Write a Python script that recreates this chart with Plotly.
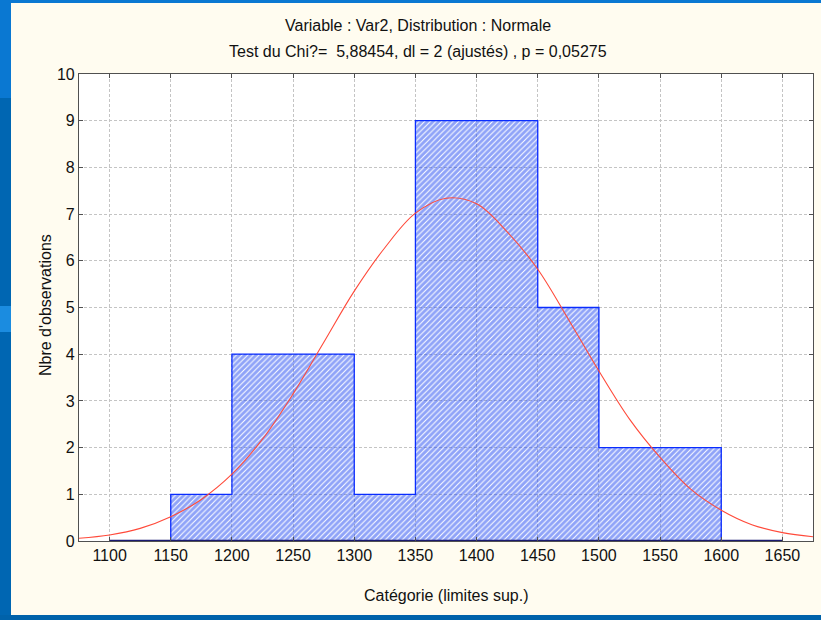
import plotly.graph_objects as go

# ---- data ----
bin_edges = [1100, 1150, 1200, 1250, 1300, 1350, 1400, 1450, 1500, 1550, 1600, 1650]
counts = [0, 1, 4, 4, 1, 9, 9, 5, 2, 2, 0]

curve_x = [1075, 1100, 1125, 1150, 1175, 1200, 1225, 1250, 1275, 1300, 1325, 1350, 1375,
           1400, 1425, 1450, 1475, 1500, 1525, 1550, 1575, 1600, 1625, 1650, 1675]
curve_y = [0.06, 0.13, 0.27, 0.52, 0.89, 1.43, 2.18, 3.15, 4.25, 5.35, 6.28, 7.02, 7.34,
           7.22, 6.62, 5.82, 4.75, 3.64, 2.61, 1.79, 1.11, 0.66, 0.35, 0.18, 0.09]

x_ticks = [1100, 1150, 1200, 1250, 1300, 1350, 1400, 1450, 1500, 1550, 1600, 1650]
y_ticks = [0, 1, 2, 3, 4, 5, 6, 7, 8, 9, 10]

title1 = "Variable : Var2, Distribution : Normale"
title2 = "Test du Chi?=  5,88454, dl = 2 (ajustés) , p = 0,05275"
x_title = "Catégorie (limites sup.)"
y_title = "Nbre d'observations"

# ---- layout geometry ----
W, H = 821, 620
L, R, T, B = 79, 8, 74, 79
PW, PH = W - L - R, H - T - B


def px_x(p):
    return (p - L) / PW


def px_y(p):
    return (H - B - p) / PH


FONT = "Liberation Sans, Arial, sans-serif"

centers = [(bin_edges[i] + bin_edges[i + 1]) / 2 for i in range(len(counts))]
widths = [bin_edges[i + 1] - bin_edges[i] for i in range(len(counts))]

fig = go.Figure()

fig.add_trace(go.Bar(
    x=centers, y=counts, width=widths,
    marker=dict(color="rgba(255,255,255,0)", line=dict(width=0),
                pattern=dict(shape="/", fgcolor="#1f48f2", bgcolor="rgba(255,255,255,0)",
                             size=4, solidity=0.75)),
    showlegend=False, hoverinfo="skip",
))

# step outline of histogram
step_x = [bin_edges[0]] + bin_edges
step_y = [0] + counts + [0]
fig.add_trace(go.Scatter(
    x=step_x, y=step_y, mode="lines", line=dict(color="#0a2cff", width=1.3, shape="hv"),
    showlegend=False, hoverinfo="skip",
))

# baseline
fig.add_trace(go.Scatter(
    x=[bin_edges[0], bin_edges[-1]], y=[0, 0], mode="lines",
    line=dict(color="#1a1a70", width=2.5), showlegend=False, hoverinfo="skip",
))

# fitted normal curve
fig.add_trace(go.Scatter(
    x=curve_x, y=curve_y, mode="lines", line=dict(color="#ff4a3a", width=1.1, shape="spline"),
    showlegend=False, hoverinfo="skip",
))

shapes = [
    dict(type="rect", xref="paper", yref="paper", x0=px_x(0), x1=px_x(11), y0=px_y(H), y1=px_y(0),
         fillcolor="#0066b2", line=dict(width=0), layer="above"),
    dict(type="rect", xref="paper", yref="paper", x0=px_x(0), x1=px_x(11), y0=px_y(98), y1=px_y(0),
         fillcolor="#0a78d2", line=dict(width=0), layer="above"),
    dict(type="rect", xref="paper", yref="paper", x0=px_x(0), x1=px_x(11), y0=px_y(332), y1=px_y(306),
         fillcolor="#1b8ce0", line=dict(width=0), layer="above"),
    dict(type="rect", xref="paper", yref="paper", x0=px_x(0), x1=px_x(W), y0=px_y(3), y1=px_y(0),
         fillcolor="#0a78d2", line=dict(width=0), layer="above"),
    dict(type="rect", xref="paper", yref="paper", x0=px_x(0), x1=px_x(W), y0=px_y(H), y1=px_y(615),
         fillcolor="#0062aa", line=dict(width=0), layer="above"),
]

annotations = [
    dict(text=title1, xref="paper", yref="paper", x=px_x(418), y=px_y(25), showarrow=False,
         xanchor="center", yanchor="middle", font=dict(family=FONT, size=16, color="#111")),
    dict(text=title2, xref="paper", yref="paper", x=px_x(418), y=px_y(51), showarrow=False,
         xanchor="center", yanchor="middle", font=dict(family=FONT, size=16, color="#111")),
    dict(text=x_title, xref="paper", yref="paper", x=px_x(446), y=px_y(595), showarrow=False,
         xanchor="center", yanchor="middle", font=dict(family=FONT, size=16, color="#111")),
    dict(text=y_title, xref="paper", yref="paper", x=px_x(45), y=px_y(305), showarrow=False,
         xanchor="center", yanchor="middle", textangle=-90,
         font=dict(family=FONT, size=16, color="#111")),
]

fig.update_layout(
    width=W, height=H,
    margin=dict(l=L, r=R, t=T, b=B, pad=0),
    paper_bgcolor="#fffcf0", plot_bgcolor="#ffffff",
    bargap=0, showlegend=False,
    shapes=shapes, annotations=annotations,
    font=dict(family=FONT, size=16, color="#111"),
)

grid_common = dict(
    showgrid=True, gridcolor="#c4c4c4", gridwidth=1, griddash="3px,2px",
    showline=True, linecolor="#505050", linewidth=1.2, mirror="ticks",
    ticks="inside", ticklen=4, tickcolor="#505050", zeroline=False,
    tickfont=dict(family=FONT, size=16, color="#111"),
)

fig.update_xaxes(range=[1075, 1675], tickmode="array", tickvals=x_ticks,
                 ticktext=[str(v) for v in x_ticks], **grid_common)
fig.update_yaxes(range=[0, 10], tickmode="array", tickvals=y_ticks,
                 ticktext=[str(v) for v in y_ticks], **grid_common)

fig.write_html("out.html")
